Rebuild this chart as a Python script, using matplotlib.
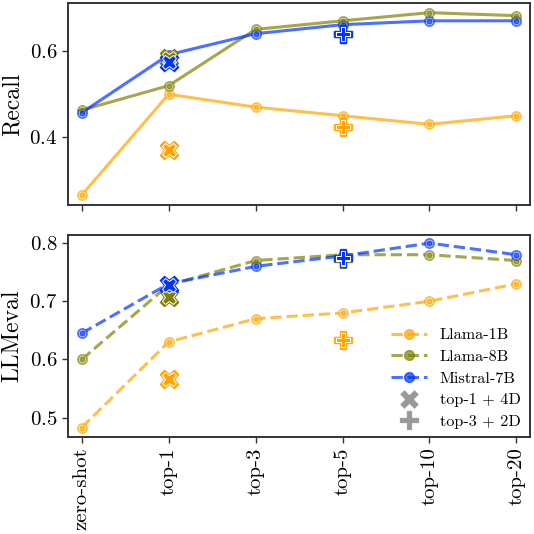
import matplotlib
matplotlib.use("Agg")
import matplotlib.pyplot as plt
from matplotlib.lines import Line2D

plt.rcParams['font.family'] = 'serif'
plt.rcParams['font.serif'] = ['cmr10']
plt.rcParams['mathtext.fontset'] = 'cm'
plt.rcParams['axes.unicode_minus'] = False
plt.rcParams['axes.formatter.use_mathtext'] = True

categories = ["zero-shot", "top-1", "top-3", "top-5", "top-10", "top-20"]
models = ["Llama-1B", "Llama-8B", "Mistral-7B"]
colors = {"Llama-1B": "#FFA500", "Llama-8B": "#808000", "Mistral-7B": "#0033FF"}

recall = {
    "Llama-1B": [0.265, 0.50, 0.47, 0.45, 0.43, 0.45],
    "Llama-8B": [0.463, 0.52, 0.651, 0.671, 0.69, 0.683],
    "Mistral-7B": [0.457, 0.592, 0.641, 0.662, 0.671, 0.671],
}
llmeval = {
    "Llama-1B": [0.483, 0.63, 0.67, 0.68, 0.70, 0.73],
    "Llama-8B": [0.60, 0.728, 0.77, 0.78, 0.78, 0.77],
    "Mistral-7B": [0.645, 0.73, 0.76, 0.778, 0.80, 0.78],
}
# extra variants: top-1 + 4D at "top-1", top-3 + 2D at "top-5"
recall_x = {"Llama-1B": 0.37, "Llama-8B": 0.585, "Mistral-7B": 0.574}
recall_p = {"Llama-1B": 0.423, "Llama-8B": 0.640, "Mistral-7B": 0.641}
llmeval_x = {"Llama-1B": 0.566, "Llama-8B": 0.708, "Mistral-7B": 0.728}
llmeval_p = {"Llama-1B": 0.633, "Llama-8B": 0.772, "Mistral-7B": 0.775}

fig = plt.figure(figsize=(5.34, 5.34), dpi=100)
ax1 = fig.add_axes([0.127, 0.616, 0.866, 0.378])
ax2 = fig.add_axes([0.127, 0.182, 0.866, 0.378])

xs = list(range(len(categories)))


def draw(ax, data, xd, pd, ls):
    for m in models:
        c = colors[m]
        ax.plot(xs, data[m], color=c, alpha=0.7, lw=2.2, ls=ls, marker='o', ms=6.5,
                mfc='white', mec=c, mew=1.3, zorder=2)
        ax.plot(xs, data[m], ls='none', marker='o', ms=3.5, color=c, alpha=0.7, zorder=3)
    for m in models:
        c = colors[m]
        ax.plot([1], [xd[m]], ls='none', marker='X', ms=13, mfc=c, mec=c, zorder=4)
        ax.plot([1], [xd[m]], ls='none', marker='X', ms=10.5, mfc=c, mec='white', mew=0.7, zorder=5)
        ax.plot([3], [pd[m]], ls='none', marker='P', ms=13, mfc=c, mec=c, alpha=0.85, zorder=4)
        ax.plot([3], [pd[m]], ls='none', marker='P', ms=10.5, mfc=c, mec='white', mew=0.7, zorder=5)


draw(ax1, recall, recall_x, recall_p, '-')
draw(ax2, llmeval, llmeval_x, llmeval_p, '--')

for ax in (ax1, ax2):
    ax.set_xlim(-0.16, 5.16)
    ax.set_xticks(xs)
    for s in ax.spines.values():
        s.set_color('#333333')
        s.set_linewidth(1.4)
    ax.tick_params(labelsize=15, color='#333333', width=1.0, length=4)

ax1.set_ylim(0.242, 0.712)
ax1.set_yticks([0.4, 0.6])
ax1.set_xticklabels([])
ax1.set_ylabel("Recall", fontsize=17)

ax2.set_ylim(0.467, 0.814)
ax2.set_yticks([0.5, 0.6, 0.7, 0.8])
ax2.set_xticklabels(categories, rotation=90)
ax2.set_ylabel("LLMeval", fontsize=17)

handles = []
for m in models:
    c = colors[m]
    handles.append(Line2D([], [], color=c, alpha=0.7, lw=2.2, ls='--', marker='o', ms=7,
                          mfc=c, mec=c))
handles.append(Line2D([], [], ls='none', marker='X', ms=14, mfc='gray', mec='white', mew=0.8, alpha=0.8))
handles.append(Line2D([], [], ls='none', marker='P', ms=14, mfc='gray', mec='white', mew=0.8, alpha=0.8))
ax2.legend(handles, models + ["top-1 + 4D", "top-3 + 2D"], loc='lower right', frameon=False,
           fontsize=11.7, handlelength=2.2, labelspacing=0.45, borderaxespad=0.2,
           bbox_to_anchor=(1.0, -0.01))

fig.savefig("out.png", dpi=100)
